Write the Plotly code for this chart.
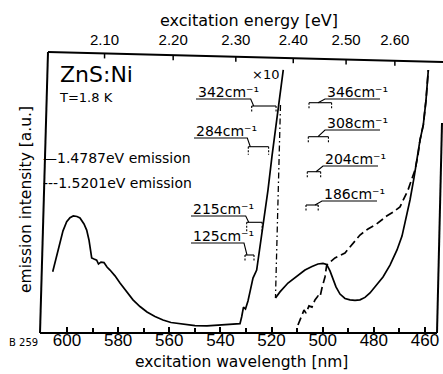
import plotly.graph_objects as go

# ---------------- data ----------------
# 1.4787 eV emission, low-energy part (incl. x10 part)
solid_lam = [605.59, 604.30, 602.74, 601.56, 600.12, 598.83, 597.54, 596.09, 594.92, 593.35,
             592.30, 591.40, 590.81, 590.34, 589.44, 588.39, 587.68, 586.70, 585.53, 584.36,
             583.18, 581.23, 579.27, 576.93, 574.19, 571.46, 568.71, 565.59, 562.46, 559.33,
             555.81, 549.94, 545.25, 538.21, 532.34, 531.68, 530.98, 530.20, 529.22, 528.44,
             527.26, 525.82, 524.53, 523.35, 521.40, 519.83, 518.00, 516.71, 515.42]
solid_int = [0.222, 0.272, 0.326, 0.370, 0.403, 0.418, 0.424, 0.422, 0.417, 0.395,
             0.373, 0.337, 0.301, 0.272, 0.268, 0.264, 0.250, 0.257, 0.255, 0.239,
             0.228, 0.207, 0.181, 0.152, 0.120, 0.096, 0.076, 0.060, 0.047, 0.038,
             0.033, 0.027, 0.026, 0.029, 0.034, 0.059, 0.094, 0.087, 0.116, 0.149,
             0.199, 0.228, 0.308, 0.384, 0.518, 0.641, 0.764, 0.855, 0.953]
# x10 -> x1 transition (dash-dot)
trans_lam = [516.51, 517.29, 518.47]
trans_int = [0.826, 0.554, 0.127]
# 1.4787 eV emission, high-energy part
solid2_lam = [518.47, 516.71, 513.58, 510.84, 506.93, 504.19, 501.85, 499.89, 498.44, 497.15,
              495.98, 494.81, 493.24, 491.29, 489.33, 487.37, 485.42, 483.46, 481.51, 479.16,
              476.42, 473.68, 470.94, 468.99, 467.81, 465.86, 464.30, 463.12, 461.95, 460.66,
              459.60, 458.70]
solid2_int = [0.127, 0.149, 0.181, 0.201, 0.228, 0.241, 0.250, 0.252, 0.248, 0.225,
              0.196, 0.167, 0.141, 0.125, 0.120, 0.118, 0.120, 0.129, 0.145, 0.170,
              0.203, 0.246, 0.301, 0.351, 0.399, 0.482, 0.562, 0.634, 0.699, 0.754,
              0.844, 0.953]
# 1.5201 eV emission (dashed)
dash_lam = [509.67, 508.22, 507.32, 506.54, 505.36, 504.19, 503.02, 501.85, 501.07, 500.29,
            499.11, 498.44, 497.15, 495.20, 491.29, 488.55, 485.42, 482.29, 478.89, 474.98,
            472.51, 469.77, 466.64, 463.90, 462.73, 461.95, 460.66, 459.60, 458.70]
dash_int = [0.029, 0.059, 0.083, 0.072, 0.098, 0.094, 0.120, 0.134, 0.130, 0.163,
            0.203, 0.246, 0.257, 0.272, 0.290, 0.319, 0.355, 0.377, 0.395, 0.424,
            0.438, 0.457, 0.518, 0.591, 0.645, 0.699, 0.754, 0.844, 0.953]

wl_ticks = [600, 580, 560, 540, 520, 500, 480, 460]
wl_minor = 10
energy_ticks = [2.10, 2.20, 2.30, 2.40, 2.50, 2.60]
energy_labels = ["2.10", "2.20", "2.30", "2.40", "2.50", "2.60"]
phonon_left = [342, 284, 215, 125]
phonon_right = [346, 308, 204, 186]

# ---------------- layout constants ----------------
FW, FH = 443, 374
L, R, T, B = 45, 438, 57, 333
X_RANGE = [608.60, 454.91]
X2_RANGE = [613.69, 459.99]
TICKFONT = "Liberation Sans, Arial, sans-serif"
FONT = "DejaVu Sans, sans-serif"
HC = 1239.84


def px_p(px):
    return (px - L) / (R - L)


def py_p(py):
    return (B - py) / (B - T)


def lam_of_px(px):
    return X_RANGE[0] + (px - L) / (R - L) * (X_RANGE[1] - X_RANGE[0])


fig = go.Figure()
line_w = 1.7
fig.add_trace(go.Scatter(x=solid_lam, y=solid_int, mode="lines",
                         line=dict(color="black", width=line_w), showlegend=False))
fig.add_trace(go.Scatter(x=trans_lam, y=trans_int, mode="lines",
                         line=dict(color="black", width=1.3, dash="6px,3px,1.5px,3px"),
                         showlegend=False))
fig.add_trace(go.Scatter(x=solid2_lam, y=solid2_int, mode="lines",
                         line=dict(color="black", width=line_w), showlegend=False))
fig.add_trace(go.Scatter(x=dash_lam, y=dash_int, mode="lines",
                         line=dict(color="black", width=line_w, dash="8px,4px"),
                         showlegend=False))
# invisible traces carrying the top (energy) axis and the bottom label axis
fig.add_trace(go.Scatter(x=[HC / e for e in energy_ticks], y=[None] * len(energy_ticks),
                         xaxis="x2", mode="lines", showlegend=False, hoverinfo="skip"))
fig.add_trace(go.Scatter(x=wl_ticks, y=[None] * len(wl_ticks),
                         xaxis="x3", mode="lines", showlegend=False, hoverinfo="skip"))

shapes = []
annots = []


def pline(pts, width=2.0, dash=None):
    path = "M " + " L ".join(f"{px_p(x):.5f},{py_p(y):.5f}" for x, y in pts)
    d = dict(type="path", path=path, xref="paper", yref="paper",
             line=dict(color="black", width=width))
    if dash:
        d["line"]["dash"] = dash
    shapes.append(d)


# frame (slightly skewed like the scan)
pline([(48, 52), (443, 62)])
pline([(48, 52), (40, 333)])
pline([(40, 333), (437, 333)])
pline([(442, 123), (437, 333)])

# top axis tick marks along the skewed top edge
for e in energy_ticks:
    lam = HC / e
    xp = (lam - X2_RANGE[0]) / (X2_RANGE[1] - X2_RANGE[0])
    px = L + xp * (R - L)
    ytop = 52 + (px - 48) * 10 / 395
    pline([(px, ytop), (px, ytop + 5)], width=1.5)


def text(s, x, y, size, xanchor="left", angle=0, family=FONT):
    annots.append(dict(text=s, x=px_p(x), y=py_p(y), xref="paper", yref="paper",
                       xanchor=xanchor, yanchor="middle", showarrow=False, textangle=angle,
                       font=dict(family=family, size=size, color="black")))


# phonon-replica brackets
def bracket(cm, px_left, ytop, leg):
    lam_l = lam_of_px(px_left)
    lam_r = lam_l - lam_l ** 2 * cm * 1e-7
    pr = L + (lam_r - X_RANGE[0]) / (X_RANGE[1] - X_RANGE[0]) * (R - L)
    pline([(px_left, ytop), (pr, ytop)], width=1.1)
    pline([(px_left, ytop), (px_left, ytop + leg)], width=1.1, dash="2px,1.5px")
    pline([(pr, ytop), (pr, ytop + leg)], width=1.1, dash="2px,1.5px")
    return pr


left_pos = [  # text x, text cy, bracket left px, bracket top, leg
    (196, 92, 251.7, 106, 7),
    (194, 131, 248.3, 146.7, 8),
    (191, 209, 246.7, 222.3, 9),
    (191, 236, 245.0, 255, 7),
]
for cm, (tx, cy, bl, bt, lg) in zip(phonon_left, left_pos):
    text(f"{cm}cm\u207b\u00b9", tx, cy, 14)
    uy = cy + 7
    pline([(tx, uy), (bl - 1, uy), (bl + 2, bt)], width=1.1)
    bracket(cm, bl, bt, lg)

right_pos = [
    (325, 92, 309.0, 102.7, 6),
    (325, 123, 308.3, 136.7, 6),
    (323, 159, 307.3, 171.7, 6),
    (322, 194, 306.0, 205, 6),
]
for cm, (tx, cy, bl, bt, lg) in zip(phonon_right, right_pos):
    text(f"{cm}cm\u207b\u00b9", tx, cy, 14)
    uy = cy + 7
    pline([(tx + 55, uy), (tx, uy), (tx - 7, bt)], width=1.1)
    bracket(cm, bl, bt, lg)

# labels
text("ZnS:Ni", 58, 75, 22)
text("T=1.8 K", 57, 97, 13)
text("\u20141.4787eV emission", 41, 158, 14)
text("---1.5201eV emission", 41, 183, 14)
text("\u00d710", 265, 74, 13, xanchor="center")
text("excitation energy [eV]", 249, 20, 16, xanchor="center")
text("excitation wavelength [nm]", 241, 362, 15.5, xanchor="center")
text("emission intensity [a.u.]", 26, 200, 15.5, xanchor="center", angle=-90)
text("B 259", 23, 342, 10, xanchor="center")

fig.update_layout(
    width=FW, height=FH,
    margin=dict(l=L, r=FW - R, t=T, b=FH - B, pad=0),
    paper_bgcolor="white", plot_bgcolor="white",
    showlegend=False,
    shapes=shapes, annotations=annots,
    xaxis=dict(range=X_RANGE, tickmode="array", tickvals=wl_ticks,
               showticklabels=False,
               ticks="inside", ticklen=6, tickwidth=1.5, tickcolor="black",
               minor=dict(dtick=wl_minor, tick0=460, ticks="inside", ticklen=5,
                          tickwidth=1.5, tickcolor="black", showgrid=False),
               showgrid=False, zeroline=False, showline=False),
    xaxis3=dict(range=X_RANGE, overlaying="x", anchor="free", position=py_p(327.5),
                tickmode="array", tickvals=wl_ticks, ticktext=[str(v) for v in wl_ticks],
                ticks="", showgrid=False, zeroline=False, showline=False,
                tickfont=dict(family=TICKFONT, size=17, color="black")),
    xaxis2=dict(range=X2_RANGE, overlaying="x", side="top", anchor="y",
                tickmode="array", tickvals=[HC / e for e in energy_ticks],
                ticktext=energy_labels, ticks="outside", ticklen=5,
                tickcolor="rgba(0,0,0,0)", showgrid=False, zeroline=False, showline=False,
                tickfont=dict(family=TICKFONT, size=15, color="black")),
    yaxis=dict(range=[0, 1], visible=False, fixedrange=True),
)

fig.write_html("out.html", config={"displayModeBar": False},
               post_script="document.body.style.margin='0';document.body.style.padding='0';"
                           "document.body.style.overflow='hidden';")
